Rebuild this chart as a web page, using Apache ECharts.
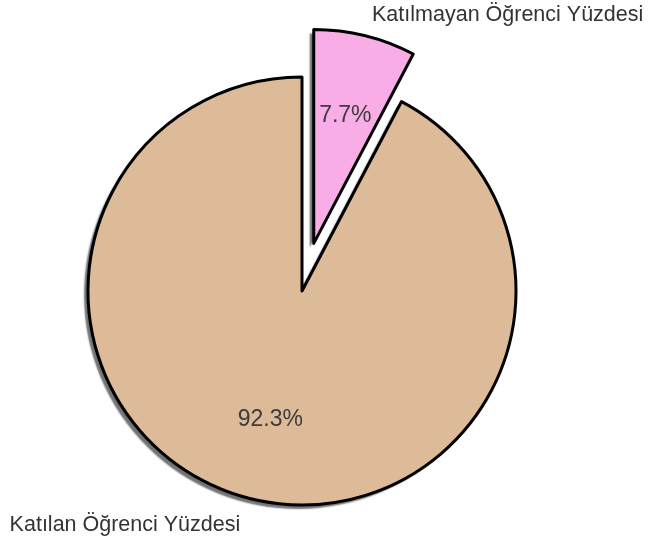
<!DOCTYPE html>
<html>
<head>
<meta charset="utf-8">
<script src="https://cdn.jsdelivr.net/npm/echarts@6/dist/echarts.min.js"></script>
<style>html,body{margin:0;padding:0;background:#fff;}#c{width:648px;height:541px;}</style>
</head>
<body>
<div id="c"></div>
<script>
var categories = ['Katılmayan Öğrenci Yüzdesi', 'Katılan Öğrenci Yüzdesi'];
var values = [7.7, 92.3];
var colors = ['#f8ade6', '#ddba98'];
var explodedIndex = 0;
// per-slice outer label placement (label line hidden)
var labelLen = [21, 27];
var labelLen2 = [2, 4];

var chart = echarts.init(document.getElementById('c'), null, {renderer: 'canvas'});
var font = "'Liberation Sans', Arial, sans-serif";

function mkData(withColor, withLabelLine) {
  return categories.map(function (name, i) {
    var d = {name: name, value: values[i], selected: i === explodedIndex};
    if (withColor) d.itemStyle = {color: colors[i]};
    if (withLabelLine) d.labelLine = {show: false, length: labelLen[i], length2: labelLen2[i]};
    return d;
  });
}

var common = {
  type: 'pie',
  center: [302, 291],
  startAngle: 90,
  clockwise: true,
  selectedMode: 'single',
  selectedOffset: 49,
  avoidLabelOverlap: false,
  animation: false,
  emphasis: {disabled: true, scale: false},
  silent: true
};

var option = {
  backgroundColor: '#ffffff',
  series: [
    // filled slices with drop shadow
    Object.assign({}, common, {
      name: 'fill',
      radius: 214,
      data: mkData(true, false),
      itemStyle: {
        borderWidth: 0,
        shadowColor: 'rgba(0,0,0,0.55)',
        shadowBlur: 1.5,
        shadowOffsetX: -4,
        shadowOffsetY: 4
      },
      select: {itemStyle: {borderWidth: 0}},
      label: {show: false},
      labelLine: {show: false}
    }),
    // outlines + category labels
    Object.assign({}, common, {
      name: 'outline',
      radius: 214,
      data: mkData(false, true),
      itemStyle: {color: 'rgba(0,0,0,0)', borderColor: '#000', borderWidth: 3},
      select: {itemStyle: {color: 'rgba(0,0,0,0)', borderColor: '#000', borderWidth: 3}},
      label: {
        show: true,
        position: 'outside',
        formatter: '{b}',
        fontFamily: font,
        fontSize: 21.5,
        color: '#333333',
        distanceToLabelLine: 0
      },
      labelLine: {show: false}
    }),
    // percentage labels
    Object.assign({}, common, {
      name: 'inner',
      radius: 258,
      data: mkData(false, false),
      itemStyle: {color: 'rgba(0,0,0,0)', borderWidth: 0},
      select: {itemStyle: {color: 'rgba(0,0,0,0)', borderWidth: 0}},
      label: {
        show: true,
        position: 'inside',
        formatter: function (p) { return p.value.toFixed(1) + '%'; },
        fontFamily: font,
        fontSize: 23,
        color: '#3c3c3c'
      },
      labelLine: {show: false}
    })
  ]
};
chart.setOption(option);
</script>
</body>
</html>
